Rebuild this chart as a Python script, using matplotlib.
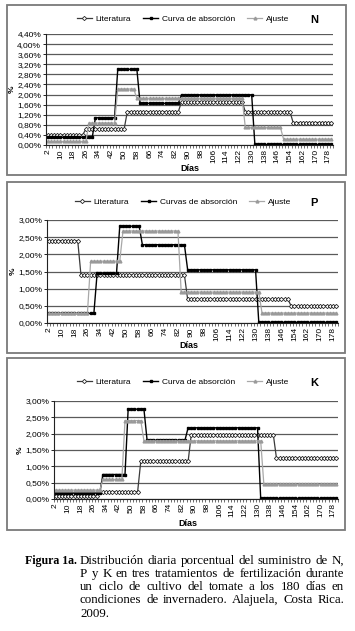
import numpy as np
import matplotlib
matplotlib.use("Agg")
import matplotlib.pyplot as plt
from matplotlib.patches import Rectangle
from matplotlib.ticker import FuncFormatter, FixedLocator

plt.rcParams['font.family'] = ['Liberation Sans', 'DejaVu Sans']

# ---------------- data (piecewise daily values, % of total) ----------------
days = np.arange(2, 181, 2)
tick_days = np.arange(2, 179, 8)

# N
N_lit_vals = [0.40, 0.63, 1.32, 1.72, 1.32, 0.89]
N_lit_ends = [24, 50, 84, 124, 154, 180]
N_cur_vals = [0.30, 1.08, 3.00, 1.65, 1.99, 0.02]
N_cur_ends = [30, 44, 58, 84, 130, 180]
N_aju_vals = [0.14, 0.87, 2.22, 1.85, 0.70, 0.23]
N_aju_ends = [26, 44, 56, 124, 148, 180]

# P
P_lit_vals = [2.40, 1.40, 0.69, 0.50]
P_lit_ends = [20, 86, 150, 180]
P_cur_vals = [0.28, 1.45, 2.82, 2.28, 1.55, 0.02]
P_cur_ends = [30, 44, 58, 86, 130, 180]
P_aju_vals = [0.28, 1.80, 2.68, 0.90, 0.29]
P_aju_ends = [26, 46, 82, 132, 180]

# K
K_lit_vals = [0.10, 0.22, 1.15, 1.97, 1.25]
K_lit_ends = [28, 54, 86, 140, 180]
K_cur_vals = [0.18, 0.75, 2.75, 1.80, 2.18, 0.02]
K_cur_ends = [30, 46, 58, 84, 130, 180]
K_aju_vals = [0.27, 0.60, 2.40, 1.78, 0.45]
K_aju_ends = [30, 44, 56, 132, 180]

series_names = {"N": ["Literatura", "Curva de absorción", "Ajuste"],
                "P": ["Literatura", "Curvas de absorción", "Ajuste"],
                "K": ["Literatura", "Curva de absorción", "Ajuste"]}

caption_lines = ["Distribución diaria porcentual del suministro de N,",
                 "P y K en tres tratamientos de fertilización durante",
                 "un ciclo de cultivo del tomate a los 180 días en",
                 "condiciones de invernadero. Alajuela, Costa Rica.",
                 "2009."]


def expand(vals, ends):
    out = []
    for d in days:
        for v, e in zip(vals, ends):
            if d <= e:
                out.append(v)
                break
    return np.array(out)


W, H = 355, 631
fig = plt.figure(figsize=(W / 100, H / 100), dpi=100)


def fx(px):
    return px / W


def fy(py):
    return 1 - py / H


# panel frames
frames = [(7, 5, 346, 175), (7, 182, 345, 353), (7, 358, 345, 530)]
for (l, t, r, b) in frames:
    fig.patches.append(Rectangle((fx(l), fy(b)), fx(r) - fx(l), fy(t) - fy(b),
                                 transform=fig.transFigure, fill=False,
                                 edgecolor='#7a7a7a', lw=1.3))

styles = [dict(color='#3a3a3a', marker='D', ms=2.2, mfc='white', mec='#2a2a2a', mew=0.6, lw=0.9),
          dict(color='#000000', marker='s', ms=1.8, mfc='black', mec='black', lw=1.0),
          dict(color='#a8a8a8', marker='^', ms=2.0, mfc='#9a9a9a', mec='#9a9a9a', lw=0.9)]

panels = [
    dict(key="N", data=[(N_lit_vals, N_lit_ends), (N_cur_vals, N_cur_ends), (N_aju_vals, N_aju_ends)],
         box=(46, 34, 333, 145), ymax=4.4, ystep=0.4, leg_y=19, xlabel=(190, 169)),
    dict(key="P", data=[(P_lit_vals, P_lit_ends), (P_cur_vals, P_cur_ends), (P_aju_vals, P_aju_ends)],
         box=(47, 220, 338, 323), ymax=3.0, ystep=0.5, leg_y=202, xlabel=(189, 346)),
    dict(key="K", data=[(K_lit_vals, K_lit_ends), (K_cur_vals, K_cur_ends), (K_aju_vals, K_aju_ends)],
         box=(54, 401, 338, 499), ymax=3.0, ystep=0.5, leg_y=382, xlabel=(188, 523)),
]

pct = FuncFormatter(lambda v, p: ("%.2f%%" % v).replace('.', ','))

for pn in panels:
    l, t, r, b = pn["box"]
    ax = fig.add_axes([fx(l), fy(b), fx(r) - fx(l), fy(t) - fy(b)])
    xs = np.arange(len(days))
    handles = []
    for (vals, ends), st, name in zip(pn["data"], styles, series_names[pn["key"]]):
        y = expand(vals, ends)
        h, = ax.plot(xs, y, label=name, **st)
        handles.append(h)
    ax.set_xlim(-0.5, len(days) - 0.5)
    ax.set_ylim(0, pn["ymax"])
    yt = np.arange(0, pn["ymax"] + 1e-9, pn["ystep"])
    ax.set_yticks(yt)
    ax.yaxis.set_major_formatter(pct)
    ax.grid(axis='y', color='#5a5a5a', lw=0.9)
    ax.set_axisbelow(True)
    ax.xaxis.set_major_locator(FixedLocator([(d - 2) / 2 for d in tick_days]))
    ax.set_xticklabels([str(d) for d in tick_days], rotation=90)
    ax.xaxis.set_minor_locator(FixedLocator(np.arange(-0.5, len(days), 1)))
    ax.tick_params(axis='x', which='major', length=0, labelsize=6, pad=3)
    ax.tick_params(axis='x', which='minor', length=2, width=0.4, direction='out')
    ax.tick_params(axis='y', length=2, width=0.6, labelsize=6, pad=1.5)
    for s in ['top', 'right']:
        ax.spines[s].set_visible(False)
    ax.spines['left'].set_color('#222222')
    ax.spines['bottom'].set_color('#222222')
    ax.spines['left'].set_linewidth(0.8)
    ax.spines['bottom'].set_linewidth(0.8)
    ax.set_ylabel('%', fontsize=6, fontweight='bold', labelpad=1)
    fig.text(fx(pn["xlabel"][0]), fy(pn["xlabel"][1]), 'Días', fontsize=6.5,
             fontweight='bold', ha='center', va='center')
    fig.legend(handles=handles, loc='center', bbox_to_anchor=(fx(183), fy(pn["leg_y"])),
               ncol=3, frameon=False, fontsize=6, handlelength=1.8, handletextpad=0.4,
               columnspacing=1.5, markerscale=1.0, borderpad=0)
    fig.text(fx(314), fy(pn["leg_y"] + 1), pn["key"], fontsize=8, fontweight='bold',
             ha='center', va='center')

# caption
serif = ['Liberation Serif', 'DejaVu Serif']
fig.text(fx(25), fy(561), 'Figura 1a.', family=serif, fontsize=8.6, fontweight='bold',
         ha='left', va='center')
fig.canvas.draw()
renderer = fig.canvas.get_renderer()
x_left, x_right = 80, 344
line_ys = [561, 574, 587, 600, 614]
for i, (line, ly) in enumerate(zip(caption_lines, line_ys)):
    words = line.split(' ')
    texts = [fig.text(0, fy(ly), w, family=serif, fontsize=9.3, ha='left', va='center')
             for w in words]
    widths = [tx.get_window_extent(renderer).width for tx in texts]
    if i < len(caption_lines) - 1 and len(words) > 1:
        gap = (x_right - x_left - sum(widths)) / (len(words) - 1)
    else:
        gap = 2.5
    x = x_left
    for tx, wd in zip(texts, widths):
        tx.set_x(fx(x))
        x += wd + gap

fig.savefig('out.png', dpi=100)
